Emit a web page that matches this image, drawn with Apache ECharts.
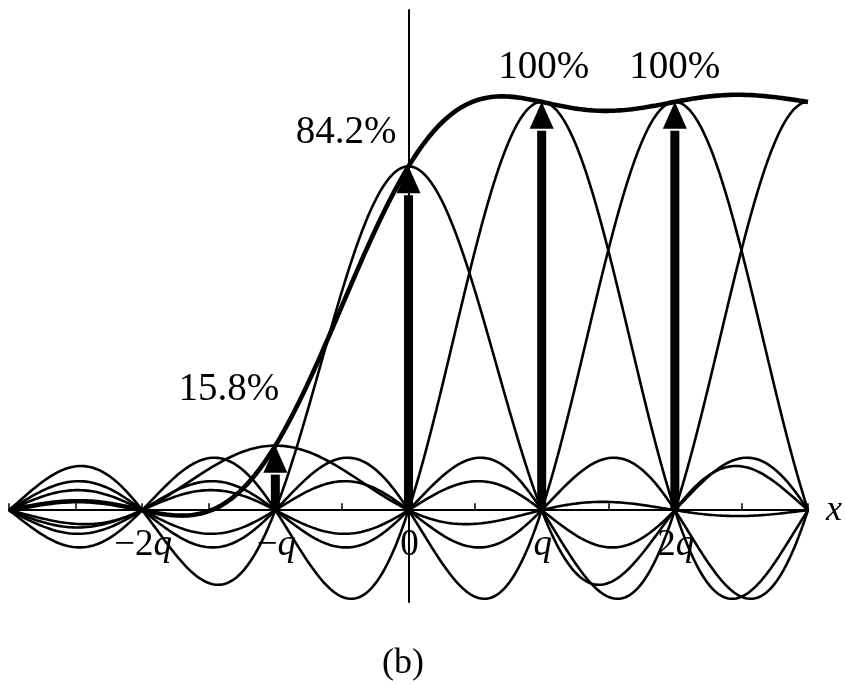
<!DOCTYPE html>
<html>
<head>
<meta charset="utf-8">
<script src="https://cdn.jsdelivr.net/npm/echarts@6/dist/echarts.min.js"></script>
<style>
  html, body { margin: 0; padding: 0; background: #fff; }
  #chart { width: 845px; height: 685px; }
</style>
</head>
<body>
<div id="chart"></div>
<script>
// Sample positions (in units of q) and sample values (%) of the edge profile.
const sampleIndex = [-1, 0, 1, 2, 3, 4, 5];
const sampleValue = [15.8, 84.2, 100, 100, 100, 100, 100];
// The profile is 0 % to the left of the samples and stays at 100 % to the right.
const levelLeft = 0;
const levelRight = 100;

// Samples marked with arrows, and their value labels.
const arrowIndex = [-1, 0, 1, 2];
const arrowValue = [15.8, 84.2, 100, 100];
const arrowText = ['15.8%', '84.2%', '100%', '100%'];

// Axis tick labels.
const tickValue = [-2, -1, 0, 1, 2];
const tickText = ['−2q', '−q', '0', 'q', '2q'];

const SERIF = '"Liberation Serif", "Times New Roman", serif';

// Reconstruction kernel.
function sinc(t) {
  if (Math.abs(t) < 1e-12) return 1;
  return Math.sin(Math.PI * t) / (Math.PI * t);
}

const X_MIN = -3, X_MAX = 3, STEPS = 1200;
const xs = [];
for (let i = 0; i <= STEPS; i++) xs.push(X_MIN + (X_MAX - X_MIN) * i / STEPS);

// One weighted kernel per sample.
const kernelSeries = sampleIndex.map((n, k) => ({
  type: 'line',
  name: 'kernel' + n,
  data: xs.map(x => [x, sampleValue[k] * sinc(x - n)]),
  showSymbol: false,
  symbol: 'none',
  lineStyle: { color: '#000', width: 2.6 },
  z: 3,
  silent: true
}));

// Band-limited reconstruction: sum of all kernels, including the
// constant right-hand level continuing past the last drawn sample
// (the left-hand level is zero and adds nothing).
const lastIdx = sampleIndex[sampleIndex.length - 1];
const TAIL = 4000;
const sumData = xs.map(x => {
  let s = 0;
  for (let k = 0; k < sampleIndex.length; k++) s += sampleValue[k] * sinc(x - sampleIndex[k]);
  for (let n = lastIdx + 1; n <= lastIdx + TAIL; n++) s += levelRight * sinc(x - n);
  return [x, s + levelLeft * 0];
});

// Where each value label sits relative to its arrow tip.
const labelPlacement = [
  { dx: 4, dy: -56, align: 'right' },
  { dx: -12, dy: -34, align: 'right' },
  { dx: 2, dy: -34, align: 'center' },
  { dx: 0, dy: -34, align: 'center' }
];

// Splits a tick text into upright part and italic trailing "q".
function tickParts(txt) {
  if (txt.endsWith('q')) return [txt.slice(0, -1), 'q'];
  return [txt, ''];
}

const chart = echarts.init(document.getElementById('chart'), null, { renderer: 'canvas' });

chart.setOption({
  backgroundColor: '#ffffff',
  animation: false,
  grid: { left: 9, right: 36, top: 10, bottom: 83, containLabel: false },
  xAxis: {
    type: 'value',
    min: X_MIN,
    max: X_MAX,
    interval: 0.5,
    name: 'x',
    nameLocation: 'end',
    nameGap: 18,
    nameTextStyle: {
      fontFamily: SERIF, fontStyle: 'italic', fontSize: 36, color: '#000',
      verticalAlign: 'middle', align: 'left', padding: [0, 0, 4, 0]
    },
    axisLine: { onZero: true, lineStyle: { color: '#000', width: 2 } },
    axisTick: {
      show: true, inside: true, length: 7,
      lineStyle: { color: '#000', width: 1.5 }
    },
    splitLine: { show: false },
    axisLabel: { show: false }
  },
  yAxis: {
    type: 'value',
    min: -22.5,
    max: 122.5,
    axisLine: { show: true, onZero: true, lineStyle: { color: '#000', width: 2 } },
    axisTick: { show: false },
    axisLabel: { show: false },
    splitLine: { show: false }
  },
  graphic: [{
    type: 'text',
    left: 382,
    top: 646,
    style: { text: '(b)', font: '36px ' + SERIF, fill: '#000' }
  }],
  series: kernelSeries.concat([
    {
      type: 'line',
      name: 'reconstruction',
      data: sumData,
      showSymbol: false,
      symbol: 'none',
      lineStyle: { color: '#000', width: 4.6 },
      z: 4,
      silent: true
    },
    {
      // tick labels along the horizontal axis
      type: 'custom',
      name: 'ticks',
      data: tickValue.map((v, k) => [v, 0, k]),
      z: 2,
      clip: false,
      silent: true,
      renderItem: function (params, api) {
        const p = api.coord([api.value(0), 0]);
        const parts = tickParts(tickText[api.value(2)]);
        return {
          type: 'text',
          x: p[0] + 1,
          y: p[1] + 35,
          style: {
            rich: {
              n: { font: '37px ' + SERIF, fill: '#000' },
              i: { font: 'italic 37px ' + SERIF, fill: '#000' }
            },
            text: (parts[0] ? '{n|' + parts[0] + '}' : '') + (parts[1] ? '{i|' + parts[1] + '}' : ''),
            align: 'center',
            verticalAlign: 'middle'
          }
        };
      }
    },
    {
      type: 'custom',
      name: 'samples',
      data: arrowIndex.map((n, k) => [n, arrowValue[k], k]),
      z: 6,
      clip: false,
      renderItem: function (params, api) {
        const x = api.value(0), v = api.value(1), k = api.value(2);
        const tip = api.coord([x, v]);
        const base = api.coord([x, 0]);
        const headH = 27, headW = 24, shaftW = 9, gap = 2;
        const shaftTop = tip[1] + headH + gap;
        const pl = labelPlacement[k];
        return {
          type: 'group',
          children: [
            {
              type: 'rect',
              shape: { x: tip[0] - shaftW / 2, y: shaftTop, width: shaftW, height: Math.max(0, base[1] - shaftTop) },
              style: { fill: '#000' }
            },
            {
              type: 'polygon',
              shape: { points: [[tip[0], tip[1]], [tip[0] - headW / 2, tip[1] + headH], [tip[0] + headW / 2, tip[1] + headH]] },
              style: { fill: '#000' }
            },
            {
              type: 'text',
              x: tip[0] + pl.dx,
              y: tip[1] + pl.dy,
              style: {
                text: arrowText[k],
                font: '39px ' + SERIF,
                fill: '#000',
                align: pl.align,
                verticalAlign: 'middle'
              }
            }
          ]
        };
      }
    }
  ])
});
</script>
</body>
</html>
